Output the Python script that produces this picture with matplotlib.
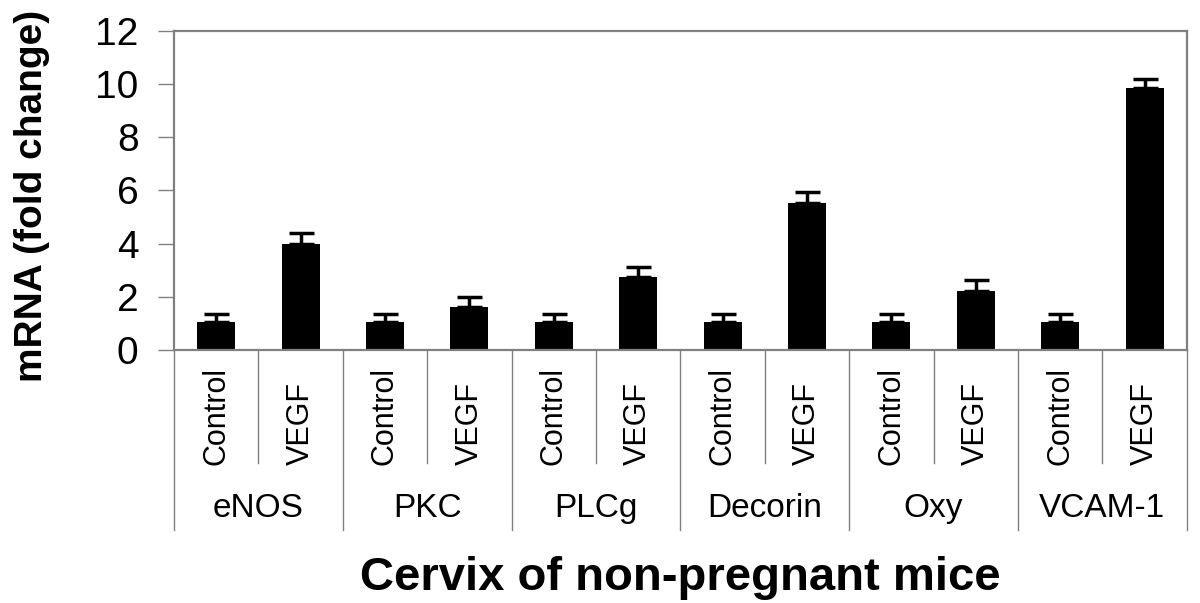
import numpy as np
import matplotlib
matplotlib.use('Agg')
import matplotlib.pyplot as plt
import matplotlib.transforms as mtransforms

plt.rcParams['font.family'] = ['Liberation Sans', 'DejaVu Sans']

# data
genes = ['eNOS', 'PKC', 'PLCg', 'Decorin', 'Oxy', 'VCAM-1']
groups = ['Control', 'VEGF']
control_mean = [1.05, 1.05, 1.05, 1.05, 1.05, 1.05]
control_err = [0.29, 0.29, 0.29, 0.29, 0.29, 0.29]
vegf_mean = [3.98, 1.60, 2.74, 5.54, 2.23, 9.84]
vegf_err = [0.41, 0.38, 0.40, 0.39, 0.39, 0.37]
yticks = [0, 2, 4, 6, 8, 10, 12]

# interleave: Control, VEGF per gene
means = []
errs = []
labels = []
for i in range(len(genes)):
    means += [control_mean[i], vegf_mean[i]]
    errs += [control_err[i], vegf_err[i]]
    labels += groups
x = np.arange(len(means))

fig = plt.figure(figsize=(12, 6.03), dpi=100)
ax = fig.add_axes([0.145, 0.4196, 0.844, 0.529])

ax.bar(x, means, width=0.45, color='black', zorder=2)
ax.errorbar(x, means, yerr=[np.zeros(len(errs)), errs], fmt='none',
            ecolor='black', elinewidth=2.5, capsize=9, capthick=2.5, zorder=3)

ax.set_xlim(-0.5, len(means) - 0.5)
ax.set_ylim(0, 12)
ax.set_yticks(yticks)
ax.set_yticklabels([str(v) for v in yticks], fontsize=28)
ax.tick_params(axis='y', direction='out', length=11.5, width=1, color='#808080', pad=14)
ax.set_xticks([])

for s in ax.spines.values():
    s.set_color('#808080')
    s.set_linewidth(1.6)

# category label area below the axis
trans = mtransforms.blended_transform_factory(ax.transData, ax.transAxes)
for b in np.arange(-0.5, len(means), 1.0):
    idx = int(round(b + 0.5))
    if idx % 2 == 0:
        y_end = -0.564
    else:
        y_end = -0.354
    ax.plot([b, b], [0, y_end], transform=trans, color='#808080', lw=1,
            clip_on=False)

for xi, lab in zip(x, labels):
    ax.text(xi, -0.36, lab, transform=trans, rotation=90, ha='center', va='bottom',
            fontsize=22)

for i, g in enumerate(genes):
    ax.text(2 * i + 0.5, -0.5235, g, transform=trans, ha='center', va='baseline',
            fontsize=24)

fig.text(0.567, 0.0216, 'Cervix of non-pregnant mice', ha='center', va='baseline',
         fontsize=34, fontweight='bold')
fig.text(0.027, 0.675, 'mRNA (fold change)', ha='center', va='center', rotation=90,
         fontsize=28, fontweight='bold')

fig.savefig('out.png', dpi=100)
